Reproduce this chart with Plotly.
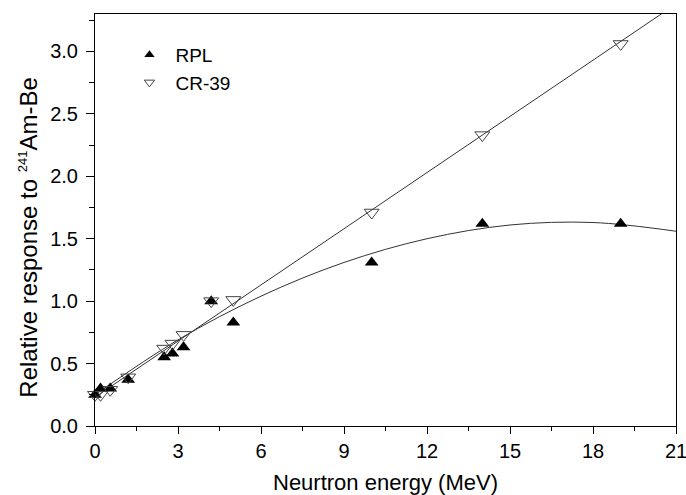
import plotly.graph_objects as go

rpl_x = [0.0, 0.2, 0.55, 1.2, 2.5, 2.8, 3.2, 4.2, 5.0, 10.0, 14.0, 19.0]
rpl_y = [0.25, 0.30, 0.30, 0.37, 0.55, 0.58, 0.63, 1.00, 0.83, 1.31, 1.62, 1.62]
cr39_x = [0.0, 0.2, 0.55, 1.2, 2.5, 2.8, 3.2, 4.2, 5.0, 10.0, 14.0, 19.0]
cr39_y = [0.25, 0.25, 0.29, 0.39, 0.62, 0.66, 0.73, 1.00, 1.01, 1.71, 2.33, 3.06]

# Fit curves
rpl_fit_x = [0, 3, 6, 9, 12, 15, 18, 21]
rpl_fit_y = [0.25, 0.69, 1.04, 1.31, 1.50, 1.61, 1.63, 1.56]
cr39_fit_x = [0, 21]
cr39_fit_y = [0.23, 3.38]

x_ticks = [0, 3, 6, 9, 12, 15, 18, 21]
y_ticks = [0.0, 0.5, 1.0, 1.5, 2.0, 2.5, 3.0]

FONT = "Liberation Sans, Arial, sans-serif"

fig = go.Figure()
fig.add_trace(go.Scatter(x=cr39_fit_x, y=cr39_fit_y, mode="lines",
                         line=dict(color="#333333", width=1), showlegend=False))
fig.add_trace(go.Scatter(x=rpl_fit_x, y=rpl_fit_y, mode="lines", line_shape="spline",
                         line=dict(color="#333333", width=1), showlegend=False))
fig.add_trace(go.Scatter(x=rpl_x, y=rpl_y, mode="markers", name="RPL", cliponaxis=False,
                         showlegend=False,
                         marker=dict(symbol="triangle-up", size=12, color="black",
                                     line=dict(width=0))))
fig.add_trace(go.Scatter(x=cr39_x, y=cr39_y, mode="markers", name="CR-39", cliponaxis=False,
                         showlegend=False,
                         marker=dict(symbol="triangle-down-open", size=13, color="#444444",
                                     line=dict(width=1))))
# legend entries (smaller symbols, as in the reference)
fig.add_trace(go.Scatter(x=[None], y=[None], mode="markers", name="RPL",
                         marker=dict(symbol="triangle-up", size=9, color="black",
                                     line=dict(width=0))))
fig.add_trace(go.Scatter(x=[None], y=[None], mode="markers", name="CR-39",
                         marker=dict(symbol="triangle-down-open", size=9, color="#444444",
                                     line=dict(width=1))))

axis_common = dict(showgrid=False, zeroline=False, showline=True, linecolor="black",
                   linewidth=1, mirror=True, ticks="outside", tickwidth=1,
                   tickcolor="black", automargin=False, ticklabeloverflow="allow",
                   tickfont=dict(family=FONT, size=20, color="black"))

fig.update_xaxes(range=[0, 21], tickvals=x_ticks, ticktext=[str(v) for v in x_ticks], ticklen=7,
                 minor=dict(dtick=1.5, ticks="outside", ticklen=4, tickcolor="black"),
                 title=dict(text="Neurtron energy (MeV)", font=dict(family=FONT, size=22, color="black"),
                            standoff=14),
                 **axis_common)
fig.update_yaxes(range=[0, 3.3], tickvals=y_ticks, ticktext=[f"{v:.1f}" for v in y_ticks], ticklen=8,
                 ticklabelstandoff=4,
                 minor=dict(dtick=0.25, ticks="outside", ticklen=5, tickcolor="black"),
                 **axis_common)

# y-axis title placed as a rotated annotation (its centre is below the plot middle in the reference)
fig.add_annotation(text='Relative response to <sup><span style="font-size:13px">241</span></sup>Am-Be',
                   xref="paper", yref="paper", x=-0.115, y=0.4575,
                   xanchor="center", yanchor="middle", textangle=-90, showarrow=False,
                   font=dict(family=FONT, size=24, color="black"))

fig.update_layout(
    width=686, height=495,
    margin=dict(l=95, r=10, t=14, b=69),
    plot_bgcolor="white", paper_bgcolor="white",
    legend=dict(x=0.049, y=0.947, xanchor="left", yanchor="top",
                font=dict(family=FONT, size=19, color="black"),
                bgcolor="rgba(0,0,0,0)", tracegroupgap=4, itemwidth=42),
)

fig.write_html("out.html")
